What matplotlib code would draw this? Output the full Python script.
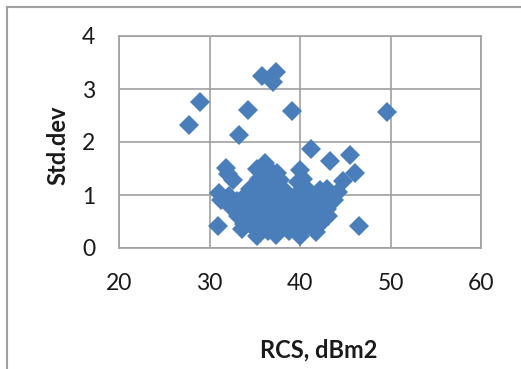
import matplotlib
matplotlib.use("Agg")
import matplotlib.pyplot as plt
from matplotlib.lines import Line2D

# data (RCS in dBm2, standard deviation)
rcs_outliers = [27.7, 28.95, 33.3, 34.2, 35.8, 37.35, 37.05, 39.1, 49.6,
                41.2, 43.3, 45.5, 46.1, 44.8, 46.5, 30.9, 31.8, 32.6,
                31.0, 31.3, 40.0]
std_outliers = [2.32, 2.76, 2.13, 2.6, 3.24, 3.32, 3.14, 2.58, 2.56,
                1.87, 1.65, 1.75, 1.42, 1.26, 0.41, 0.42, 1.51, 1.29,
                1.04, 0.91, 1.48]

rcs_cluster = [35.2, 36.1, 36.8, 37.5, 32.0,
               35.5, 36.5, 37.8, 40.3, 39.8,
               34.5, 36.0, 37.0, 38.2, 40.5, 42.2, 43.0, 44.2,
               32.2, 34.0, 35.0, 36.3, 37.5, 38.5, 39.7, 41.0, 42.0, 43.2,
               33.0, 34.3, 35.6, 36.8, 38.0, 39.2, 40.5, 41.6, 42.8, 43.8,
               32.5, 33.6, 34.8, 36.0, 37.2, 38.4, 39.6, 40.8, 42.0, 43.0,
               33.2, 34.4, 35.5, 36.6, 37.7, 38.9, 40.1, 41.3, 42.4, 43.1,
               33.8, 35.0, 36.2, 37.3, 38.5, 39.6, 40.8, 42.2,
               33.6, 35.3, 36.5, 37.4, 38.8, 40.0, 41.8,
               35.3, 37.3, 40.0]
std_cluster = [1.50, 1.60, 1.45, 1.42, 1.40,
               1.30, 1.32, 1.28, 1.30, 1.25,
               1.12, 1.15, 1.18, 1.10, 1.15, 1.10, 1.12, 1.05,
               0.98, 1.00, 1.02, 1.00, 1.05, 0.98, 1.02, 0.98, 1.00, 0.98,
               0.88, 0.90, 0.88, 0.92, 0.88, 0.90, 0.88, 0.90, 0.88, 0.90,
               0.75, 0.75, 0.76, 0.74, 0.75, 0.76, 0.74, 0.75, 0.76, 0.74,
               0.60, 0.60, 0.62, 0.58, 0.60, 0.62, 0.58, 0.60, 0.62, 0.60,
               0.46, 0.45, 0.47, 0.44, 0.46, 0.45, 0.46, 0.45,
               0.35, 0.32, 0.33, 0.30, 0.32, 0.33, 0.30,
               0.22, 0.24, 0.22]

x_ticks = [20, 30, 40, 50, 60]
y_ticks = [0, 1, 2, 3, 4]

blue = "#4A7EBB"
grey = "#A0A0A0"
font = ["Lato", "DejaVu Sans"]

fig = plt.figure(figsize=(5.21, 3.69), dpi=100)
ax = fig.add_axes([119 / 521, 1 - 248 / 369, 362 / 521, 212 / 369])

ax.plot(rcs_cluster + rcs_outliers, std_cluster + std_outliers,
        linestyle="none", marker="D", markersize=10.2,
        color=blue, markeredgewidth=0, clip_on=False, zorder=3)

ax.set_xlim(x_ticks[0], x_ticks[-1])
ax.set_ylim(y_ticks[0], y_ticks[-1])
ax.set_xticks(x_ticks)
ax.set_yticks(y_ticks)
ax.grid(True, color=grey, linewidth=1.2)
ax.set_axisbelow(True)
for sp in ax.spines.values():
    sp.set_color(grey)
    sp.set_linewidth(1.2)
ax.tick_params(length=0, labelsize=16.5, colors="#1a1a1a")
ax.tick_params(axis="x", pad=18)
ax.tick_params(axis="y", pad=17)
for lbl in ax.get_xticklabels() + ax.get_yticklabels():
    lbl.set_family(font)

fig.text(319 / 521, 1 - 350 / 369, "RCS, dBm2", ha="center", va="center",
         fontsize=17, fontweight="bold", family=font, color="#1a1a1a")
fig.text(58 / 521, 1 - 145 / 369, "Std.dev", ha="center", va="center",
         rotation=90, fontsize=17, fontweight="bold", family=font,
         color="#1a1a1a")

# outer chart border (only left and top visible)
fig.add_artist(Line2D([7 / 521, 7 / 521], [0, 1 - 7 / 369],
                      transform=fig.transFigure, color=grey, linewidth=1.5))
fig.add_artist(Line2D([7 / 521, 1], [1 - 7 / 369, 1 - 7 / 369],
                      transform=fig.transFigure, color=grey, linewidth=1.5))

fig.savefig("out.png", dpi=100)
